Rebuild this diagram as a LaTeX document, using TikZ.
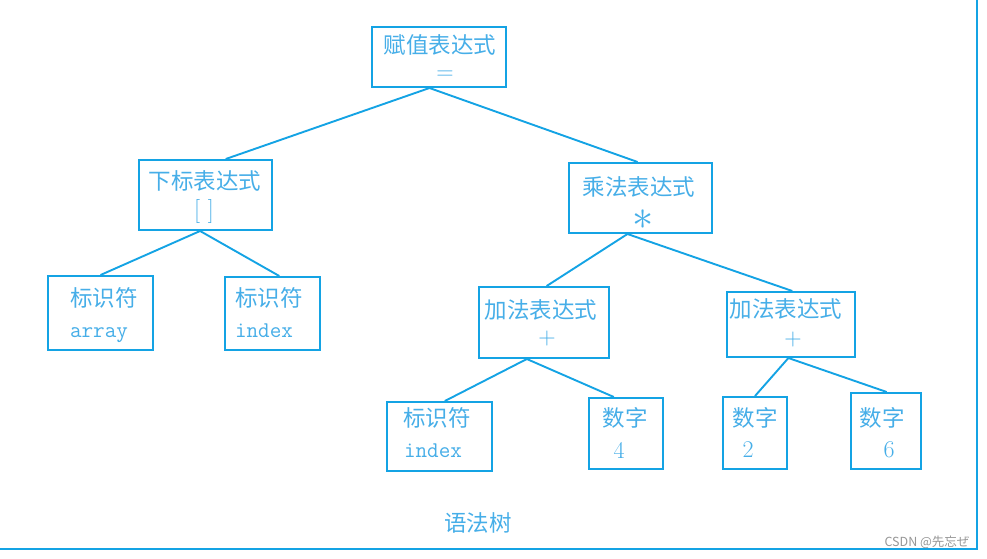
\documentclass[tikz,border=0pt]{standalone}
\usepackage{fontspec}
\newfontfamily\cjkfont{Noto Sans CJK SC}
\newfontfamily\wmfont{Noto Sans CJK JP}
\usetikzlibrary{calc}
\definecolor{linecol}{RGB}{20,163,228}
\definecolor{textcol}{RGB}{70,174,232}
\definecolor{wmcol}{RGB}{150,150,150}
\tikzset{
  treebox/.style={draw=linecol, line width=2pt, inner sep=0pt, fill=white},
  cjk/.style={text=textcol, font=\cjkfont\fontsize{22.5}{26}\selectfont, inner sep=0pt},
  latin/.style={text=textcol, font=\fontsize{22.5}{26}\selectfont\ttfamily, inner sep=0pt, anchor=base},
  digit/.style={text=textcol, font=\fontsize{24}{28}\selectfont, inner sep=0pt},
  treeline/.style={draw=linecol, line width=1.9pt},
}
\newcommand{\treeedge}[4]{\draw[treeline] ($(#1.south west)!#2!(#1.south east)$) -- ($(#3.north west)!#4!(#3.north east)$);}
\begin{document}
\begin{tikzpicture}[x=1pt,y=-1pt]
\useasboundingbox (0,0) rectangle (987,558);
% frame lines
\coordinate (frTop) at (977,0);
\coordinate (frCorner) at (977,549);
\coordinate (frLeft) at (0,549);
\draw[linecol, line width=2.2pt] (frTop) -- (frCorner) -- (frLeft);
% boxes
\node[treebox, minimum width=134pt, minimum height=60pt] (root) at (439,57) {};
\node[treebox, minimum width=133pt, minimum height=70pt] (sub) at (205.5,195) {};
\node[treebox, minimum width=105pt, minimum height=74pt] (arr) at (100.5,313) {};
\node[treebox, minimum width=95pt, minimum height=73pt] (idxa) at (272.5,313.5) {};
\node[treebox, minimum width=143pt, minimum height=70pt] (mul) at (640.5,198) {};
\node[treebox, minimum width=130pt, minimum height=71pt] (addl) at (544,322.5) {};
\node[treebox, minimum width=128pt, minimum height=65pt] (addr) at (791,324.5) {};
\node[treebox, minimum width=105pt, minimum height=69pt] (idxb) at (439.5,436.5) {};
\node[treebox, minimum width=74pt, minimum height=71pt] (nfour) at (626,433.5) {};
\node[treebox, minimum width=64pt, minimum height=72pt] (ntwo) at (755,433) {};
\node[treebox, minimum width=70pt, minimum height=76pt] (nsix) at (886,431) {};
% edges
\treeedge{root}{0.43}{sub}{0.65}
\treeedge{root}{0.43}{mul}{0.48}
\treeedge{sub}{0.46}{arr}{0.50}
\treeedge{sub}{0.46}{idxa}{0.57}
\treeedge{mul}{0.41}{addl}{0.52}
\treeedge{mul}{0.41}{addr}{0.51}
\treeedge{addl}{0.37}{idxb}{0.55}
\treeedge{addl}{0.37}{nfour}{0.34}
\treeedge{addr}{0.48}{ntwo}{0.50}
\treeedge{addr}{0.48}{nsix}{0.51}
% texts
\node[cjk] (tRoot) at (440,45) {赋值表达式};
\node[digit] (tRootOp) at (445,75) {=};
\node[cjk] (tSub) at (205,181) {下标表达式};
\node[digit] (tSubOp) at (204,211) {[\,\,]};
\node[cjk] (tArr) at (104,298) {标识符};
\node[latin] (tArrName) at (99,337) {array};
\node[cjk] (tIdxa) at (269,298) {标识符};
\node[latin] (tIdxaName) at (264,337) {index};
\node[cjk] (tMul) at (639,187) {乘法表达式};
\node[digit, anchor=base] (tMulOp) at (643,229) {\smash{\scalebox{1.7}{$\ast$}}};
\node[cjk] (tAddl) at (541,310) {加法表达式};
\node[digit] (tAddlOp) at (547,339) {+};
\node[cjk] (tAddr) at (786,309) {加法表达式};
\node[digit] (tAddrOp) at (793,340) {+};
\node[cjk] (tIdxb) at (437,418) {标识符};
\node[latin] (tIdxbName) at (433,457) {index};
\node[cjk] (tFour) at (625,418) {数字};
\node[digit] (tFourV) at (619,450) {4};
\node[cjk] (tTwo) at (755,418) {数字};
\node[digit] (tTwoV) at (748,450) {2};
\node[cjk] (tSix) at (882,418) {数字};
\node[digit] (tSixV) at (889,450) {6};
\node[cjk] (tTitle) at (478,523) {语法树};
\node[text=wmcol, font=\wmfont\fontsize{12.5}{14}\selectfont, inner sep=0pt] (wm) at (927,542) {CSDN @先忘ぜ};
\end{tikzpicture}
\end{document}
